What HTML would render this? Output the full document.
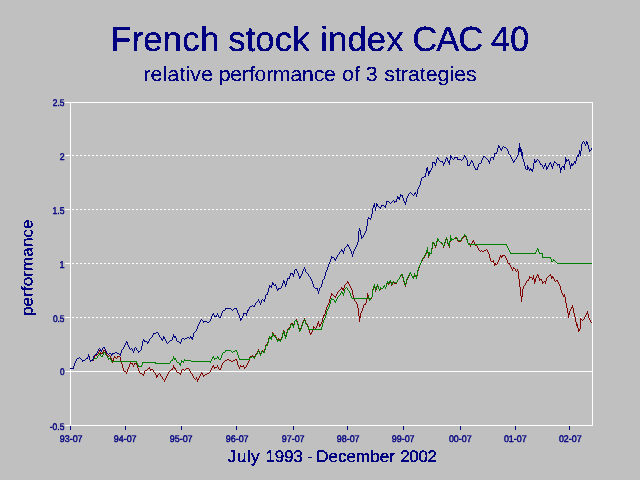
<!DOCTYPE html>
<html lang="en"><head><meta charset="utf-8"><title>French stock index CAC 40</title>
<style>
html,body{margin:0;padding:0;background:#c0c0c0;overflow:hidden}
svg{display:block}
text{font-family:"Liberation Sans",Arial,Helvetica,sans-serif;fill:#000080;text-rendering:geometricPrecision}
.ln{fill:none;stroke-width:1;stroke-linejoin:miter;shape-rendering:crispEdges}
</style></head><body>
<svg width="640" height="480" viewBox="0 0 640 480">
<rect width="640" height="480" fill="#c0c0c0"/>
<defs><filter id="px" x="0" y="0" width="640" height="480" filterUnits="userSpaceOnUse" color-interpolation-filters="sRGB"><feComponentTransfer><feFuncA type="discrete" tableValues="0 1"/></feComponentTransfer></filter></defs>
<g shape-rendering="crispEdges" stroke="#fff" stroke-width="1" fill="none">
<line x1="72" y1="155.5" x2="592" y2="155.5" stroke-dasharray="2 2"/>
<line x1="72" y1="209.5" x2="592" y2="209.5" stroke-dasharray="2 2"/>
<line x1="72" y1="263.5" x2="592" y2="263.5" stroke-dasharray="2 2"/>
<line x1="72" y1="317.5" x2="592" y2="317.5" stroke-dasharray="2 2"/>
<rect x="70.5" y="102.5" width="522" height="323"/>
<line x1="70" y1="371.5" x2="593" y2="371.5"/>
<line x1="65" y1="102.5" x2="70" y2="102.5"/>
<line x1="65" y1="155.5" x2="70" y2="155.5"/>
<line x1="65" y1="209.5" x2="70" y2="209.5"/>
<line x1="65" y1="263.5" x2="70" y2="263.5"/>
<line x1="65" y1="317.5" x2="70" y2="317.5"/>
<line x1="65" y1="371.5" x2="70" y2="371.5"/>
<line x1="65" y1="425.5" x2="70" y2="425.5"/>
</g>
<g shape-rendering="crispEdges" stroke="#000080" stroke-width="1">
<line x1="70.5" y1="426" x2="70.5" y2="430"/>
<line x1="125.5" y1="426" x2="125.5" y2="430"/>
<line x1="181.5" y1="426" x2="181.5" y2="430"/>
<line x1="236.5" y1="426" x2="236.5" y2="430"/>
<line x1="293.5" y1="426" x2="293.5" y2="430"/>
<line x1="347.5" y1="426" x2="347.5" y2="430"/>
<line x1="403.5" y1="426" x2="403.5" y2="430"/>
<line x1="460.5" y1="426" x2="460.5" y2="430"/>
<line x1="515.5" y1="426" x2="515.5" y2="430"/>
<line x1="569.5" y1="426" x2="569.5" y2="430"/>
</g>
<text font-size="9" transform="matrix(0.9320 0 0 1.0667 52.767 105.833)" stroke="#000080" stroke-width="0.4">2.5</text>
<text font-size="9" transform="matrix(0.9556 0 0 1.0868 59.761 159.964)" stroke="#000080" stroke-width="0.4">2</text>
<text font-size="9" transform="matrix(0.9516 0 0 1.0868 52.524 213.828)" stroke="#000080" stroke-width="0.4">1.5</text>
<text font-size="9" transform="matrix(1.0118 0 0 1.1077 59.494 267.962)" stroke="#000080" stroke-width="0.4">1</text>
<text font-size="9" transform="matrix(0.9224 0 0 1.0667 52.885 321.833)" stroke="#000080" stroke-width="0.4">0.5</text>
<text font-size="9" transform="matrix(0.9053 0 0 1.0667 59.887 374.833)" stroke="#000080" stroke-width="0.4">0</text>
<text font-size="9" transform="matrix(0.9455 0 0 1.0667 49.764 429.833)" stroke="#000080" stroke-width="0.4">-0.5</text>
<text font-size="9" transform="matrix(0.9911 0 0 1.0667 59.752 441.833)" stroke="#000080" stroke-width="0.4">93-07</text>
<text font-size="9" transform="matrix(0.9911 0 0 1.0667 113.752 441.833)" stroke="#000080" stroke-width="0.4">94-07</text>
<text font-size="9" transform="matrix(0.9911 0 0 1.0667 169.752 441.833)" stroke="#000080" stroke-width="0.4">95-07</text>
<text font-size="9" transform="matrix(0.9911 0 0 1.0667 225.752 441.833)" stroke="#000080" stroke-width="0.4">96-07</text>
<text font-size="9" transform="matrix(0.9911 0 0 1.0667 281.752 441.833)" stroke="#000080" stroke-width="0.4">97-07</text>
<text font-size="9" transform="matrix(0.9911 0 0 1.0667 336.752 441.833)" stroke="#000080" stroke-width="0.4">98-07</text>
<text font-size="9" transform="matrix(0.9911 0 0 1.0667 391.752 441.833)" stroke="#000080" stroke-width="0.4">99-07</text>
<text font-size="9" transform="matrix(0.9856 0 0 1.0667 448.877 441.833)" stroke="#000080" stroke-width="0.4">00-07</text>
<text font-size="9" transform="matrix(0.9856 0 0 1.0667 503.877 441.833)" stroke="#000080" stroke-width="0.4">01-07</text>
<text font-size="9" transform="matrix(0.9856 0 0 1.0667 558.877 441.833)" stroke="#000080" stroke-width="0.4">02-07</text>
<g filter="url(#px)">
<text font-size="35" x="111.45 133.08 144.88 164.59 184.29 202.00 219.80 230.55 248.25 258.08 277.77 295.47 313.79 323.66 331.49 351.11 370.73 390.34 408.18 416.76 440.88 463.16 487.81 496.08 515.39" y="0" transform="matrix(0.9895 0 0 0.9990 0 50.975)" stroke="#000080" stroke-width="0.3">French stock index CAC 40</text>
<text font-size="21" x="141.42 148.54 160.46 165.21 177.13 183.08 187.84 198.55 209.90 215.86 227.28 238.70 245.55 251.26 262.69 269.53 286.66 298.08 309.52 319.80 331.09 337.54 349.61 356.05 361.03 373.03 379.24 389.75 395.59 402.59 414.29 420.13 431.83 443.52 448.20 459.89" y="0" transform="matrix(1.0133 0 0 0.9770 0 80.900)" stroke="#000080" stroke-width="0.15">relative performance of 3 strategies</text>
<text font-size="17" transform="matrix(0 -1.0128 0.9500 0 32.756 316.086)" stroke="#000080" stroke-width="0.3">performance</text>
<text font-size="17" x="227.29 236.36 246.46 250.48 259.63 264.69 273.97 283.25 292.53 301.92 306.38 312.00 315.53 327.78 337.22 345.71 355.15 369.30 378.74 388.18 394.18 399.12 408.25 417.38 426.51" y="0" transform="matrix(1.0026 0 0 0.9833 0 461.877)" stroke="#000080" stroke-width="0.3">July 1993 - December 2002</text>
</g>
<path shape-rendering="crispEdges" fill="#000080" d="M70 368h1v1h-1zM71 368h1v1h-1zM72 368h1v1h-1zM73 366h1v3h-1zM74 363h1v3h-1zM75 361h1v2h-1zM76 359h1v2h-1zM77 358h1v1h-1zM78 358h1v1h-1zM79 357h1v1h-1zM80 358h1v1h-1zM81 359h1v1h-1zM82 360h1v2h-1zM83 360h1v1h-1zM84 360h1v1h-1zM85 359h1v1h-1zM86 358h1v1h-1zM87 357h1v2h-1zM88 354h1v3h-1zM89 356h1v4h-1zM90 360h1v2h-1zM91 360h1v1h-1zM92 359h1v2h-1zM93 356h1v3h-1zM94 355h1v1h-1zM95 354h1v1h-1zM96 353h1v2h-1zM97 351h1v2h-1zM98 349h1v2h-1zM99 348h1v1h-1zM100 349h1v2h-1zM101 350h1v2h-1zM102 348h1v2h-1zM103 347h1v1h-1zM104 347h1v2h-1zM105 349h1v2h-1zM106 351h1v2h-1zM107 353h1v1h-1zM108 354h1v1h-1zM109 353h1v1h-1zM110 353h1v1h-1zM111 354h1v2h-1zM112 353h1v2h-1zM113 353h1v1h-1zM114 353h1v1h-1zM115 352h1v1h-1zM116 352h1v1h-1zM117 353h1v1h-1zM118 353h1v1h-1zM119 354h1v1h-1zM120 353h1v3h-1zM121 350h1v3h-1zM122 349h1v1h-1zM123 347h1v2h-1zM124 345h1v2h-1zM125 343h1v2h-1zM126 341h1v2h-1zM127 342h1v3h-1zM128 345h1v2h-1zM129 347h1v2h-1zM130 349h1v1h-1zM131 348h1v1h-1zM132 349h1v2h-1zM133 351h1v2h-1zM134 348h1v3h-1zM135 347h1v1h-1zM136 348h1v2h-1zM137 350h1v1h-1zM138 351h1v2h-1zM139 351h1v1h-1zM140 350h1v1h-1zM141 346h1v4h-1zM142 341h1v5h-1zM143 339h1v2h-1zM144 340h1v2h-1zM145 341h1v1h-1zM146 341h1v1h-1zM147 342h1v2h-1zM148 341h1v2h-1zM149 339h1v2h-1zM150 338h1v1h-1zM151 337h1v1h-1zM152 335h1v2h-1zM153 333h1v2h-1zM154 333h1v1h-1zM155 333h1v1h-1zM156 332h1v1h-1zM157 332h1v1h-1zM158 333h1v2h-1zM159 335h1v2h-1zM160 337h1v1h-1zM161 338h1v2h-1zM162 339h1v2h-1zM163 336h1v3h-1zM164 337h1v2h-1zM165 339h1v2h-1zM166 341h1v2h-1zM167 343h1v1h-1zM168 342h1v1h-1zM169 341h1v1h-1zM170 340h1v1h-1zM171 340h1v1h-1zM172 337h1v3h-1zM173 334h1v3h-1zM174 336h1v2h-1zM175 336h1v2h-1zM176 338h1v3h-1zM177 341h1v1h-1zM178 341h1v1h-1zM179 342h1v1h-1zM180 342h1v2h-1zM181 339h1v3h-1zM182 338h1v1h-1zM183 338h1v1h-1zM184 339h1v1h-1zM185 338h1v1h-1zM186 338h1v1h-1zM187 337h1v1h-1zM188 337h1v1h-1zM189 338h1v1h-1zM190 336h1v2h-1zM191 337h1v2h-1zM192 337h1v3h-1zM193 333h1v4h-1zM194 332h1v1h-1zM195 331h1v1h-1zM196 329h1v2h-1zM197 326h1v3h-1zM198 324h1v2h-1zM199 322h1v2h-1zM200 320h1v2h-1zM201 319h1v1h-1zM202 320h1v1h-1zM203 321h1v2h-1zM204 321h1v1h-1zM205 321h1v1h-1zM206 321h1v1h-1zM207 322h1v1h-1zM208 322h1v1h-1zM209 321h1v1h-1zM210 319h1v2h-1zM211 316h1v3h-1zM212 314h1v2h-1zM213 313h1v2h-1zM214 315h1v2h-1zM215 316h1v1h-1zM216 315h1v2h-1zM217 313h1v2h-1zM218 315h1v2h-1zM219 317h1v1h-1zM220 316h1v2h-1zM221 313h1v3h-1zM222 311h1v2h-1zM223 310h1v1h-1zM224 310h1v1h-1zM225 308h1v2h-1zM226 308h1v1h-1zM227 308h1v1h-1zM228 308h1v1h-1zM229 308h1v1h-1zM230 308h1v1h-1zM231 309h1v1h-1zM232 310h1v1h-1zM233 309h1v1h-1zM234 308h1v1h-1zM235 308h1v1h-1zM236 308h1v2h-1zM237 310h1v3h-1zM238 313h1v2h-1zM239 315h1v3h-1zM240 318h1v3h-1zM241 318h1v2h-1zM242 316h1v2h-1zM243 313h1v3h-1zM244 313h1v1h-1zM245 313h1v1h-1zM246 313h1v3h-1zM247 310h1v3h-1zM248 309h1v2h-1zM249 307h1v2h-1zM250 306h1v1h-1zM251 306h1v1h-1zM252 305h1v1h-1zM253 306h1v1h-1zM254 305h1v2h-1zM255 303h1v2h-1zM256 302h1v1h-1zM257 301h1v1h-1zM258 299h1v2h-1zM259 301h1v2h-1zM260 303h1v2h-1zM261 300h1v3h-1zM262 299h1v1h-1zM263 300h1v1h-1zM264 299h1v3h-1zM265 295h1v4h-1zM266 294h1v1h-1zM267 292h1v3h-1zM268 288h1v4h-1zM269 285h1v3h-1zM270 286h1v1h-1zM271 285h1v3h-1zM272 282h1v3h-1zM273 283h1v2h-1zM274 285h1v1h-1zM275 284h1v2h-1zM276 286h1v3h-1zM277 289h1v2h-1zM278 288h1v2h-1zM279 288h1v1h-1zM280 288h1v1h-1zM281 286h1v2h-1zM282 283h1v3h-1zM283 280h1v3h-1zM284 281h1v3h-1zM285 284h1v3h-1zM286 281h1v4h-1zM287 278h1v3h-1zM288 278h1v1h-1zM289 276h1v3h-1zM290 273h1v3h-1zM291 273h1v1h-1zM292 273h1v2h-1zM293 274h1v3h-1zM294 270h1v4h-1zM295 269h1v1h-1zM296 269h1v2h-1zM297 271h1v2h-1zM298 273h1v3h-1zM299 276h1v3h-1zM300 276h1v2h-1zM301 274h1v2h-1zM302 271h1v3h-1zM303 269h1v2h-1zM304 267h1v2h-1zM305 269h1v3h-1zM306 272h1v1h-1zM307 273h1v1h-1zM308 274h1v2h-1zM309 276h1v1h-1zM310 277h1v2h-1zM311 279h1v2h-1zM312 281h1v3h-1zM313 284h1v3h-1zM314 287h1v1h-1zM315 288h1v1h-1zM316 288h1v1h-1zM317 288h1v3h-1zM318 291h1v3h-1zM319 288h1v3h-1zM320 287h1v1h-1zM321 284h1v3h-1zM322 280h1v4h-1zM323 279h1v1h-1zM324 276h1v3h-1zM325 272h1v4h-1zM326 270h1v2h-1zM327 267h1v3h-1zM328 264h1v3h-1zM329 262h1v2h-1zM330 259h1v3h-1zM331 256h1v3h-1zM332 257h1v1h-1zM333 257h1v1h-1zM334 258h1v2h-1zM335 259h1v2h-1zM336 257h1v2h-1zM337 255h1v2h-1zM338 254h1v1h-1zM339 252h1v2h-1zM340 251h1v1h-1zM341 249h1v2h-1zM342 250h1v2h-1zM343 251h1v3h-1zM344 248h1v3h-1zM345 247h1v1h-1zM346 246h1v1h-1zM347 244h1v2h-1zM348 245h1v2h-1zM349 247h1v2h-1zM350 249h1v2h-1zM351 251h1v3h-1zM352 254h1v3h-1zM353 251h1v3h-1zM354 249h1v2h-1zM355 247h1v2h-1zM356 245h1v2h-1zM357 242h1v3h-1zM358 231h1v11h-1zM359 228h1v3h-1zM360 230h1v5h-1zM361 235h1v4h-1zM362 237h1v1h-1zM363 235h1v2h-1zM364 233h1v2h-1zM365 231h1v2h-1zM366 226h1v5h-1zM367 219h1v7h-1zM368 217h1v2h-1zM369 218h1v1h-1zM370 218h1v2h-1zM371 214h1v4h-1zM372 208h1v6h-1zM373 205h1v3h-1zM374 203h1v4h-1zM375 207h1v4h-1zM376 203h1v4h-1zM377 204h1v2h-1zM378 206h1v1h-1zM379 207h1v1h-1zM380 207h1v2h-1zM381 205h1v2h-1zM382 205h1v1h-1zM383 205h1v1h-1zM384 206h1v1h-1zM385 205h1v3h-1zM386 201h1v4h-1zM387 201h1v1h-1zM388 201h1v1h-1zM389 202h1v1h-1zM390 203h1v1h-1zM391 202h1v1h-1zM392 201h1v1h-1zM393 200h1v1h-1zM394 201h1v2h-1zM395 201h1v1h-1zM396 199h1v3h-1zM397 196h1v3h-1zM398 197h1v2h-1zM399 197h1v3h-1zM400 194h1v3h-1zM401 195h1v1h-1zM402 195h1v3h-1zM403 198h1v3h-1zM404 201h1v2h-1zM405 202h1v3h-1zM406 198h1v4h-1zM407 196h1v2h-1zM408 194h1v2h-1zM409 193h1v1h-1zM410 192h1v1h-1zM411 193h1v1h-1zM412 194h1v1h-1zM413 195h1v1h-1zM414 193h1v2h-1zM415 192h1v2h-1zM416 194h1v3h-1zM417 189h1v5h-1zM418 187h1v2h-1zM419 185h1v2h-1zM420 181h1v4h-1zM421 178h1v3h-1zM422 177h1v1h-1zM423 177h1v1h-1zM424 176h1v1h-1zM425 173h1v4h-1zM426 168h1v5h-1zM427 167h1v4h-1zM428 171h1v5h-1zM429 171h1v3h-1zM430 170h1v2h-1zM431 168h1v2h-1zM432 162h1v6h-1zM433 162h1v1h-1zM434 162h1v2h-1zM435 163h1v3h-1zM436 159h1v4h-1zM437 157h1v2h-1zM438 158h1v2h-1zM439 160h1v1h-1zM440 161h1v1h-1zM441 161h1v1h-1zM442 161h1v2h-1zM443 163h1v3h-1zM444 162h1v2h-1zM445 159h1v3h-1zM446 157h1v2h-1zM447 158h1v3h-1zM448 161h1v2h-1zM449 160h1v5h-1zM450 155h1v5h-1zM451 156h1v2h-1zM452 158h1v1h-1zM453 159h1v1h-1zM454 157h1v2h-1zM455 157h1v1h-1zM456 157h1v1h-1zM457 157h1v3h-1zM458 159h1v1h-1zM459 159h1v1h-1zM460 159h1v1h-1zM461 160h1v1h-1zM462 159h1v1h-1zM463 157h1v2h-1zM464 155h1v2h-1zM465 156h1v2h-1zM466 158h1v2h-1zM467 160h1v6h-1zM468 165h1v1h-1zM469 164h1v2h-1zM470 162h1v2h-1zM471 160h1v2h-1zM472 161h1v2h-1zM473 163h1v3h-1zM474 166h1v2h-1zM475 168h1v2h-1zM476 169h1v1h-1zM477 167h1v3h-1zM478 164h1v3h-1zM479 163h1v1h-1zM480 163h1v1h-1zM481 160h1v3h-1zM482 158h1v2h-1zM483 156h1v2h-1zM484 156h1v1h-1zM485 157h1v1h-1zM486 158h1v1h-1zM487 159h1v1h-1zM488 160h1v2h-1zM489 161h1v3h-1zM490 158h1v3h-1zM491 157h1v1h-1zM492 157h1v1h-1zM493 157h1v3h-1zM494 153h1v4h-1zM495 153h1v1h-1zM496 152h1v2h-1zM497 148h1v4h-1zM498 145h1v3h-1zM499 146h1v2h-1zM500 148h1v2h-1zM501 149h1v2h-1zM502 147h1v2h-1zM503 146h1v1h-1zM504 147h1v1h-1zM505 147h1v1h-1zM506 148h1v1h-1zM507 149h1v2h-1zM508 151h1v3h-1zM509 154h1v1h-1zM510 155h1v2h-1zM511 157h1v2h-1zM512 159h1v2h-1zM513 161h1v2h-1zM514 160h1v2h-1zM515 159h1v1h-1zM516 157h1v2h-1zM517 155h1v2h-1zM518 148h1v7h-1zM519 143h1v9h-1zM520 147h1v5h-1zM521 149h1v7h-1zM522 152h1v7h-1zM523 159h1v3h-1zM524 162h1v4h-1zM525 166h1v3h-1zM526 169h1v1h-1zM527 165h1v5h-1zM528 167h1v2h-1zM529 169h1v2h-1zM530 168h1v2h-1zM531 169h1v2h-1zM532 169h1v3h-1zM533 163h1v6h-1zM534 159h1v4h-1zM535 161h1v2h-1zM536 160h1v2h-1zM537 159h1v1h-1zM538 160h1v1h-1zM539 161h1v2h-1zM540 163h1v2h-1zM541 164h1v1h-1zM542 165h1v2h-1zM543 167h1v2h-1zM544 165h1v2h-1zM545 163h1v3h-1zM546 166h1v4h-1zM547 167h1v2h-1zM548 165h1v2h-1zM549 163h1v2h-1zM550 162h1v2h-1zM551 164h1v3h-1zM552 166h1v3h-1zM553 163h1v3h-1zM554 161h1v2h-1zM555 162h1v1h-1zM556 163h1v1h-1zM557 164h1v2h-1zM558 164h1v1h-1zM559 164h1v4h-1zM560 168h1v5h-1zM561 167h1v3h-1zM562 166h1v1h-1zM563 166h1v2h-1zM564 164h1v6h-1zM565 157h1v7h-1zM566 159h1v3h-1zM567 160h1v1h-1zM568 159h1v2h-1zM569 161h1v4h-1zM570 165h1v4h-1zM571 163h1v3h-1zM572 164h1v2h-1zM573 163h1v2h-1zM574 161h1v2h-1zM575 161h1v3h-1zM576 157h1v4h-1zM577 155h1v2h-1zM578 154h1v3h-1zM579 150h1v4h-1zM580 151h1v5h-1zM581 144h1v7h-1zM582 142h1v2h-1zM583 141h1v1h-1zM584 142h1v2h-1zM585 144h1v2h-1zM586 141h1v3h-1zM587 142h1v3h-1zM588 145h1v4h-1zM589 149h1v3h-1zM590 150h1v1h-1zM591 148h1v2h-1z"/>
<path shape-rendering="crispEdges" fill="#800000" d="M93 359h1v2h-1zM94 356h1v3h-1zM95 355h1v1h-1zM96 355h1v1h-1zM97 354h1v1h-1zM98 352h1v2h-1zM99 350h1v2h-1zM100 352h1v2h-1zM101 353h1v1h-1zM102 352h1v2h-1zM103 350h1v2h-1zM104 350h1v1h-1zM105 351h1v2h-1zM106 353h1v2h-1zM107 355h1v1h-1zM108 356h1v1h-1zM109 355h1v1h-1zM110 356h1v2h-1zM111 358h1v2h-1zM112 360h1v3h-1zM113 358h1v3h-1zM114 356h1v2h-1zM115 357h1v1h-1zM116 358h1v1h-1zM117 356h1v2h-1zM118 356h1v1h-1zM119 356h1v1h-1zM120 357h1v4h-1zM121 361h1v3h-1zM122 364h1v4h-1zM123 368h1v3h-1zM124 371h1v1h-1zM125 371h1v1h-1zM126 372h1v2h-1zM127 369h1v3h-1zM128 367h1v2h-1zM129 364h1v3h-1zM130 362h1v2h-1zM131 363h1v1h-1zM132 363h1v2h-1zM133 365h1v2h-1zM134 363h1v2h-1zM135 363h1v1h-1zM136 363h1v2h-1zM137 365h1v3h-1zM138 368h1v3h-1zM139 371h1v2h-1zM140 373h1v1h-1zM141 373h1v1h-1zM142 374h1v1h-1zM143 374h1v2h-1zM144 371h1v3h-1zM145 370h1v1h-1zM146 370h1v1h-1zM147 369h1v1h-1zM148 368h1v1h-1zM149 367h1v2h-1zM150 369h1v2h-1zM151 369h1v1h-1zM152 369h1v1h-1zM153 370h1v2h-1zM154 372h1v1h-1zM155 373h1v2h-1zM156 375h1v3h-1zM157 375h1v2h-1zM158 374h1v1h-1zM159 373h1v1h-1zM160 374h1v2h-1zM161 376h1v1h-1zM162 377h1v2h-1zM163 379h1v1h-1zM164 380h1v2h-1zM165 378h1v2h-1zM166 376h1v2h-1zM167 374h1v2h-1zM168 372h1v2h-1zM169 371h1v1h-1zM170 370h1v1h-1zM171 369h1v1h-1zM172 368h1v2h-1zM173 365h1v3h-1zM174 367h1v2h-1zM175 368h1v2h-1zM176 370h1v2h-1zM177 372h1v1h-1zM178 372h1v1h-1zM179 373h1v1h-1zM180 373h1v2h-1zM181 370h1v3h-1zM182 369h1v1h-1zM183 369h1v1h-1zM184 370h1v1h-1zM185 369h1v1h-1zM186 368h1v1h-1zM187 368h1v1h-1zM188 368h1v1h-1zM189 369h1v2h-1zM190 371h1v2h-1zM191 373h1v1h-1zM192 374h1v2h-1zM193 376h1v2h-1zM194 378h1v1h-1zM195 379h1v1h-1zM196 377h1v2h-1zM197 379h1v3h-1zM198 378h1v2h-1zM199 376h1v2h-1zM200 374h1v2h-1zM201 372h1v2h-1zM202 373h1v2h-1zM203 375h1v2h-1zM204 375h1v1h-1zM205 374h1v1h-1zM206 374h1v1h-1zM207 373h1v1h-1zM208 373h1v1h-1zM209 372h1v1h-1zM210 370h1v2h-1zM211 368h1v2h-1zM212 366h1v2h-1zM213 365h1v2h-1zM214 367h1v2h-1zM215 367h1v1h-1zM216 367h1v1h-1zM217 365h1v2h-1zM218 367h1v2h-1zM219 369h1v1h-1zM220 368h1v2h-1zM221 365h1v3h-1zM222 363h1v2h-1zM223 362h1v1h-1zM224 361h1v1h-1zM225 360h1v1h-1zM226 360h1v1h-1zM227 359h1v1h-1zM228 359h1v1h-1zM229 360h1v1h-1zM230 360h1v1h-1zM231 361h1v1h-1zM232 361h1v1h-1zM233 360h1v1h-1zM234 360h1v1h-1zM235 359h1v1h-1zM236 359h1v2h-1zM237 361h1v4h-1zM238 365h1v2h-1zM239 367h1v2h-1zM240 365h1v2h-1zM241 366h1v1h-1zM242 366h1v1h-1zM243 365h1v2h-1zM244 367h1v2h-1zM245 367h1v1h-1zM246 365h1v2h-1zM247 363h1v2h-1zM248 361h1v2h-1zM249 357h1v4h-1zM250 356h1v1h-1zM251 356h1v1h-1zM252 355h1v1h-1zM253 356h1v1h-1zM254 356h1v2h-1zM255 354h1v2h-1zM256 353h1v1h-1zM257 351h1v2h-1zM258 349h1v2h-1zM259 351h1v2h-1zM260 353h1v2h-1zM261 351h1v2h-1zM262 350h1v1h-1zM263 351h1v1h-1zM264 349h1v3h-1zM265 345h1v4h-1zM266 344h1v1h-1zM267 342h1v3h-1zM268 338h1v4h-1zM269 336h1v2h-1zM270 337h1v1h-1zM271 336h1v3h-1zM272 332h1v4h-1zM273 333h1v2h-1zM274 335h1v2h-1zM275 335h1v2h-1zM276 337h1v2h-1zM277 339h1v2h-1zM278 338h1v2h-1zM279 339h1v1h-1zM280 339h1v2h-1zM281 337h1v2h-1zM282 333h1v4h-1zM283 330h1v3h-1zM284 331h1v4h-1zM285 335h1v3h-1zM286 332h1v4h-1zM287 329h1v3h-1zM288 328h1v1h-1zM289 327h1v2h-1zM290 324h1v3h-1zM291 323h1v1h-1zM292 323h1v2h-1zM293 324h1v3h-1zM294 321h1v3h-1zM295 320h1v1h-1zM296 319h1v2h-1zM297 321h1v3h-1zM298 324h1v4h-1zM299 328h1v4h-1zM300 328h1v2h-1zM301 325h1v3h-1zM302 322h1v3h-1zM303 320h1v2h-1zM304 318h1v2h-1zM305 320h1v3h-1zM306 323h1v1h-1zM307 324h1v2h-1zM308 326h1v4h-1zM309 330h1v3h-1zM310 333h1v2h-1zM311 332h1v2h-1zM312 329h1v3h-1zM313 326h1v3h-1zM314 327h1v1h-1zM315 328h1v1h-1zM316 326h1v2h-1zM317 323h1v3h-1zM318 321h1v3h-1zM319 324h1v3h-1zM320 324h1v2h-1zM321 322h1v2h-1zM322 318h1v4h-1zM323 315h1v3h-1zM324 314h1v2h-1zM325 310h1v4h-1zM326 307h1v3h-1zM327 305h1v2h-1zM328 303h1v2h-1zM329 299h1v4h-1zM330 296h1v3h-1zM331 293h1v3h-1zM332 294h1v1h-1zM333 295h1v1h-1zM334 296h1v1h-1zM335 296h1v2h-1zM336 294h1v2h-1zM337 292h1v2h-1zM338 291h1v1h-1zM339 290h1v1h-1zM340 289h1v1h-1zM341 287h1v2h-1zM342 288h1v2h-1zM343 288h1v3h-1zM344 285h1v3h-1zM345 284h1v1h-1zM346 283h1v1h-1zM347 281h1v2h-1zM348 282h1v2h-1zM349 284h1v2h-1zM350 286h1v2h-1zM351 288h1v2h-1zM352 290h1v5h-1zM353 295h1v4h-1zM354 299h1v2h-1zM355 301h1v1h-1zM356 302h1v2h-1zM357 304h1v4h-1zM358 308h1v8h-1zM359 316h1v6h-1zM360 313h1v5h-1zM361 311h1v2h-1zM362 308h1v3h-1zM363 305h1v3h-1zM364 304h1v1h-1zM365 303h1v2h-1zM366 298h1v5h-1zM367 293h1v5h-1zM368 295h1v4h-1zM369 299h1v2h-1zM370 299h1v1h-1zM371 297h1v2h-1zM372 290h1v7h-1zM373 287h1v3h-1zM374 285h1v3h-1zM375 288h1v4h-1zM376 287h1v3h-1zM377 285h1v2h-1zM378 287h1v2h-1zM379 289h1v2h-1zM380 288h1v2h-1zM381 288h1v1h-1zM382 288h1v1h-1zM383 287h1v1h-1zM384 286h1v1h-1zM385 287h1v2h-1zM386 284h1v3h-1zM387 282h1v2h-1zM388 283h1v2h-1zM389 282h1v2h-1zM390 281h1v2h-1zM391 283h1v3h-1zM392 283h1v2h-1zM393 282h1v1h-1zM394 283h1v1h-1zM395 283h1v1h-1zM396 282h1v2h-1zM397 280h1v2h-1zM398 279h1v1h-1zM399 277h1v2h-1zM400 275h1v2h-1zM401 275h1v1h-1zM402 275h1v3h-1zM403 278h1v4h-1zM404 282h1v3h-1zM405 284h1v3h-1zM406 280h1v4h-1zM407 278h1v2h-1zM408 276h1v2h-1zM409 274h1v2h-1zM410 273h1v1h-1zM411 274h1v2h-1zM412 276h1v2h-1zM413 277h1v2h-1zM414 274h1v3h-1zM415 275h1v2h-1zM416 276h1v3h-1zM417 271h1v5h-1zM418 268h1v3h-1zM419 265h1v3h-1zM420 263h1v2h-1zM421 261h1v2h-1zM422 259h1v2h-1zM423 258h1v1h-1zM424 256h1v2h-1zM425 254h1v2h-1zM426 251h1v3h-1zM427 248h1v5h-1zM428 253h1v5h-1zM429 253h1v3h-1zM430 253h1v1h-1zM431 249h1v5h-1zM432 243h1v6h-1zM433 243h1v1h-1zM434 244h1v2h-1zM435 246h1v2h-1zM436 242h1v4h-1zM437 239h1v3h-1zM438 240h1v1h-1zM439 241h1v1h-1zM440 242h1v1h-1zM441 243h1v1h-1zM442 243h1v2h-1zM443 245h1v3h-1zM444 243h1v3h-1zM445 240h1v3h-1zM446 238h1v2h-1zM447 240h1v4h-1zM448 244h1v2h-1zM449 242h1v6h-1zM450 236h1v6h-1zM451 238h1v3h-1zM452 239h1v1h-1zM453 239h1v1h-1zM454 238h1v1h-1zM455 238h1v1h-1zM456 238h1v1h-1zM457 239h1v2h-1zM458 241h1v1h-1zM459 241h1v1h-1zM460 241h1v1h-1zM461 239h1v2h-1zM462 238h1v1h-1zM463 237h1v1h-1zM464 235h1v2h-1zM465 236h1v1h-1zM466 237h1v3h-1zM467 240h1v3h-1zM468 243h1v2h-1zM469 243h1v2h-1zM470 245h1v2h-1zM471 243h1v2h-1zM472 241h1v2h-1zM473 240h1v2h-1zM474 242h1v3h-1zM475 245h1v1h-1zM476 245h1v1h-1zM477 246h1v2h-1zM478 248h1v2h-1zM479 250h1v1h-1zM480 251h1v1h-1zM481 250h1v1h-1zM482 251h1v1h-1zM483 251h1v1h-1zM484 250h1v1h-1zM485 250h1v1h-1zM486 249h1v1h-1zM487 250h1v2h-1zM488 252h1v2h-1zM489 254h1v4h-1zM490 258h1v3h-1zM491 261h1v1h-1zM492 261h1v1h-1zM493 260h1v3h-1zM494 263h1v3h-1zM495 263h1v2h-1zM496 264h1v1h-1zM497 262h1v2h-1zM498 260h1v2h-1zM499 257h1v3h-1zM500 255h1v2h-1zM501 256h1v2h-1zM502 255h1v2h-1zM503 255h1v1h-1zM504 255h1v1h-1zM505 256h1v2h-1zM506 258h1v2h-1zM507 260h1v3h-1zM508 263h1v1h-1zM509 263h1v2h-1zM510 265h1v2h-1zM511 267h1v2h-1zM512 269h1v2h-1zM513 267h1v2h-1zM514 268h1v1h-1zM515 269h1v2h-1zM516 271h1v1h-1zM517 269h1v2h-1zM518 271h1v8h-1zM519 279h1v8h-1zM520 287h1v9h-1zM521 296h1v6h-1zM522 289h1v8h-1zM523 286h1v3h-1zM524 285h1v1h-1zM525 283h1v2h-1zM526 281h1v2h-1zM527 280h1v1h-1zM528 279h1v2h-1zM529 276h1v3h-1zM530 277h1v1h-1zM531 277h1v1h-1zM532 278h1v2h-1zM533 275h1v4h-1zM534 279h1v5h-1zM535 278h1v4h-1zM536 276h1v2h-1zM537 274h1v2h-1zM538 275h1v3h-1zM539 278h1v3h-1zM540 279h1v1h-1zM541 279h1v2h-1zM542 281h1v3h-1zM543 282h1v1h-1zM544 281h1v1h-1zM545 281h1v3h-1zM546 278h1v3h-1zM547 277h1v1h-1zM548 276h1v1h-1zM549 275h1v1h-1zM550 274h1v2h-1zM551 276h1v3h-1zM552 276h1v2h-1zM553 277h1v2h-1zM554 279h1v2h-1zM555 281h1v1h-1zM556 280h1v1h-1zM557 280h1v2h-1zM558 282h1v2h-1zM559 284h1v2h-1zM560 286h1v4h-1zM561 290h1v3h-1zM562 293h1v2h-1zM563 295h1v2h-1zM564 294h1v3h-1zM565 297h1v6h-1zM566 303h1v5h-1zM567 308h1v5h-1zM568 313h1v5h-1zM569 311h1v4h-1zM570 309h1v2h-1zM571 307h1v2h-1zM572 305h1v3h-1zM573 308h1v5h-1zM574 313h1v4h-1zM575 317h1v5h-1zM576 322h1v4h-1zM577 324h1v4h-1zM578 328h1v4h-1zM579 329h1v2h-1zM580 318h1v11h-1zM581 319h1v1h-1zM582 320h1v1h-1zM583 319h1v1h-1zM584 317h1v2h-1zM585 315h1v2h-1zM586 313h1v2h-1zM587 311h1v3h-1zM588 314h1v4h-1zM589 318h1v2h-1zM590 320h1v2h-1zM591 322h1v1h-1z"/>
<path shape-rendering="crispEdges" fill="#008000" d="M93 359h1v1h-1zM94 358h1v1h-1zM95 358h1v1h-1zM96 358h1v1h-1zM97 356h1v2h-1zM98 355h1v1h-1zM99 353h1v2h-1zM100 354h1v2h-1zM101 356h1v1h-1zM102 355h1v2h-1zM103 352h1v3h-1zM104 352h1v1h-1zM105 353h1v2h-1zM106 355h1v1h-1zM107 356h1v2h-1zM108 358h1v2h-1zM109 358h1v1h-1zM110 358h1v2h-1zM111 360h1v2h-1zM112 361h1v1h-1zM113 361h1v1h-1zM114 361h1v1h-1zM115 361h1v1h-1zM116 361h1v1h-1zM117 361h1v1h-1zM118 361h1v1h-1zM119 361h1v1h-1zM120 361h1v1h-1zM121 361h1v1h-1zM122 361h1v1h-1zM123 361h1v1h-1zM124 361h1v1h-1zM125 361h1v1h-1zM126 361h1v1h-1zM127 361h1v1h-1zM128 361h1v1h-1zM129 361h1v1h-1zM130 361h1v1h-1zM131 361h1v1h-1zM132 361h1v1h-1zM133 361h1v1h-1zM134 361h1v1h-1zM135 361h1v1h-1zM136 361h1v2h-1zM137 363h1v2h-1zM138 365h1v2h-1zM139 366h1v1h-1zM140 366h1v1h-1zM141 365h1v2h-1zM142 362h1v3h-1zM143 362h1v1h-1zM144 362h1v1h-1zM145 362h1v1h-1zM146 362h1v1h-1zM147 362h1v1h-1zM148 362h1v1h-1zM149 362h1v1h-1zM150 362h1v1h-1zM151 362h1v1h-1zM152 362h1v1h-1zM153 362h1v1h-1zM154 362h1v1h-1zM155 362h1v2h-1zM156 363h1v1h-1zM157 363h1v1h-1zM158 363h1v1h-1zM159 363h1v1h-1zM160 363h1v1h-1zM161 363h1v1h-1zM162 363h1v1h-1zM163 363h1v1h-1zM164 363h1v1h-1zM165 363h1v1h-1zM166 363h1v1h-1zM167 363h1v1h-1zM168 363h1v1h-1zM169 363h1v1h-1zM170 361h1v2h-1zM171 360h1v1h-1zM172 359h1v2h-1zM173 356h1v3h-1zM174 358h1v2h-1zM175 358h1v2h-1zM176 360h1v2h-1zM177 362h1v1h-1zM178 362h1v1h-1zM179 363h1v2h-1zM180 363h1v3h-1zM181 360h1v3h-1zM182 361h1v1h-1zM183 361h1v2h-1zM184 359h1v2h-1zM185 360h1v1h-1zM186 360h1v1h-1zM187 360h1v1h-1zM188 360h1v1h-1zM189 360h1v1h-1zM190 360h1v1h-1zM191 361h1v1h-1zM192 361h1v1h-1zM193 361h1v1h-1zM194 361h1v1h-1zM195 361h1v1h-1zM196 361h1v1h-1zM197 361h1v1h-1zM198 361h1v1h-1zM199 361h1v1h-1zM200 361h1v1h-1zM201 361h1v1h-1zM202 361h1v1h-1zM203 361h1v1h-1zM204 361h1v1h-1zM205 361h1v1h-1zM206 361h1v1h-1zM207 361h1v1h-1zM208 361h1v1h-1zM209 361h1v1h-1zM210 361h1v2h-1zM211 359h1v2h-1zM212 357h1v2h-1zM213 356h1v2h-1zM214 358h1v2h-1zM215 358h1v1h-1zM216 358h1v1h-1zM217 356h1v2h-1zM218 357h1v2h-1zM219 359h1v1h-1zM220 358h1v2h-1zM221 355h1v3h-1zM222 353h1v2h-1zM223 352h1v1h-1zM224 352h1v1h-1zM225 350h1v2h-1zM226 350h1v1h-1zM227 350h1v1h-1zM228 350h1v1h-1zM229 350h1v1h-1zM230 350h1v1h-1zM231 351h1v1h-1zM232 352h1v1h-1zM233 351h1v1h-1zM234 351h1v1h-1zM235 350h1v1h-1zM236 350h1v2h-1zM237 352h1v3h-1zM238 355h1v3h-1zM239 358h1v2h-1zM240 359h1v1h-1zM241 359h1v1h-1zM242 359h1v1h-1zM243 359h1v1h-1zM244 359h1v1h-1zM245 359h1v1h-1zM246 359h1v1h-1zM247 359h1v1h-1zM248 359h1v1h-1zM249 358h1v2h-1zM250 357h1v1h-1zM251 357h1v1h-1zM252 356h1v1h-1zM253 357h1v1h-1zM254 357h1v2h-1zM255 355h1v2h-1zM256 354h1v1h-1zM257 352h1v2h-1zM258 350h1v2h-1zM259 352h1v2h-1zM260 354h1v2h-1zM261 351h1v3h-1zM262 351h1v1h-1zM263 352h1v1h-1zM264 350h1v3h-1zM265 346h1v4h-1zM266 345h1v1h-1zM267 343h1v3h-1zM268 339h1v4h-1zM269 336h1v3h-1zM270 337h1v2h-1zM271 337h1v3h-1zM272 333h1v4h-1zM273 334h1v2h-1zM274 336h1v1h-1zM275 336h1v2h-1zM276 338h1v2h-1zM277 340h1v2h-1zM278 339h1v2h-1zM279 340h1v1h-1zM280 340h1v2h-1zM281 338h1v2h-1zM282 334h1v4h-1zM283 331h1v3h-1zM284 332h1v4h-1zM285 336h1v3h-1zM286 333h1v4h-1zM287 330h1v3h-1zM288 329h1v1h-1zM289 328h1v2h-1zM290 325h1v3h-1zM291 324h1v1h-1zM292 324h1v2h-1zM293 325h1v3h-1zM294 321h1v4h-1zM295 320h1v1h-1zM296 320h1v2h-1zM297 322h1v3h-1zM298 325h1v4h-1zM299 329h1v3h-1zM300 329h1v2h-1zM301 326h1v3h-1zM302 323h1v3h-1zM303 321h1v2h-1zM304 319h1v2h-1zM305 321h1v3h-1zM306 324h1v1h-1zM307 325h1v2h-1zM308 327h1v3h-1zM309 329h1v1h-1zM310 329h1v1h-1zM311 329h1v1h-1zM312 329h1v1h-1zM313 329h1v1h-1zM314 329h1v1h-1zM315 329h1v1h-1zM316 329h1v1h-1zM317 329h1v1h-1zM318 329h1v1h-1zM319 329h1v1h-1zM320 329h1v1h-1zM321 327h1v3h-1zM322 323h1v4h-1zM323 320h1v3h-1zM324 318h1v2h-1zM325 315h1v3h-1zM326 311h1v4h-1zM327 309h1v2h-1zM328 307h1v2h-1zM329 304h1v3h-1zM330 300h1v4h-1zM331 298h1v2h-1zM332 299h1v1h-1zM333 299h1v1h-1zM334 300h1v2h-1zM335 301h1v2h-1zM336 299h1v2h-1zM337 297h1v2h-1zM338 296h1v1h-1zM339 295h1v1h-1zM340 293h1v2h-1zM341 291h1v2h-1zM342 292h1v2h-1zM343 293h1v3h-1zM344 289h1v4h-1zM345 288h1v1h-1zM346 287h1v1h-1zM347 288h1v2h-1zM348 290h1v1h-1zM349 291h1v2h-1zM350 293h1v3h-1zM351 296h1v2h-1zM352 298h1v1h-1zM353 298h1v1h-1zM354 298h1v1h-1zM355 298h1v1h-1zM356 298h1v1h-1zM357 298h1v1h-1zM358 298h1v1h-1zM359 298h1v1h-1zM360 298h1v1h-1zM361 298h1v1h-1zM362 298h1v1h-1zM363 298h1v1h-1zM364 298h1v1h-1zM365 298h1v1h-1zM366 298h1v1h-1zM367 298h1v1h-1zM368 296h1v2h-1zM369 298h1v3h-1zM370 298h1v2h-1zM371 297h1v1h-1zM372 289h1v8h-1zM373 286h1v3h-1zM374 284h1v3h-1zM375 287h1v4h-1zM376 286h1v3h-1zM377 284h1v2h-1zM378 286h1v3h-1zM379 289h1v2h-1zM380 287h1v2h-1zM381 288h1v1h-1zM382 288h1v1h-1zM383 286h1v2h-1zM384 285h1v2h-1zM385 287h1v2h-1zM386 283h1v4h-1zM387 281h1v2h-1zM388 282h1v2h-1zM389 281h1v2h-1zM390 280h1v2h-1zM391 282h1v3h-1zM392 282h1v2h-1zM393 281h1v1h-1zM394 282h1v1h-1zM395 282h1v1h-1zM396 282h1v1h-1zM397 280h1v2h-1zM398 279h1v1h-1zM399 277h1v2h-1zM400 275h1v2h-1zM401 274h1v1h-1zM402 274h1v3h-1zM403 277h1v4h-1zM404 281h1v3h-1zM405 283h1v3h-1zM406 279h1v4h-1zM407 277h1v2h-1zM408 275h1v2h-1zM409 273h1v2h-1zM410 272h1v2h-1zM411 274h1v2h-1zM412 276h1v2h-1zM413 276h1v3h-1zM414 273h1v3h-1zM415 275h1v2h-1zM416 275h1v4h-1zM417 270h1v5h-1zM418 267h1v3h-1zM419 265h1v2h-1zM420 263h1v2h-1zM421 260h1v3h-1zM422 258h1v2h-1zM423 257h1v1h-1zM424 255h1v2h-1zM425 253h1v2h-1zM426 250h1v3h-1zM427 247h1v5h-1zM428 252h1v5h-1zM429 252h1v3h-1zM430 253h1v1h-1zM431 248h1v6h-1zM432 242h1v6h-1zM433 242h1v1h-1zM434 243h1v2h-1zM435 245h1v2h-1zM436 241h1v4h-1zM437 238h1v3h-1zM438 239h1v2h-1zM439 241h1v1h-1zM440 242h1v1h-1zM441 242h1v1h-1zM442 243h1v2h-1zM443 245h1v2h-1zM444 242h1v3h-1zM445 239h1v3h-1zM446 237h1v2h-1zM447 239h1v4h-1zM448 243h1v2h-1zM449 241h1v6h-1zM450 235h1v6h-1zM451 238h1v3h-1zM452 239h1v1h-1zM453 239h1v1h-1zM454 238h1v1h-1zM455 237h1v1h-1zM456 237h1v1h-1zM457 238h1v2h-1zM458 240h1v1h-1zM459 240h1v1h-1zM460 240h1v1h-1zM461 238h1v2h-1zM462 237h1v1h-1zM463 236h1v1h-1zM464 234h1v2h-1zM465 235h1v1h-1zM466 236h1v3h-1zM467 239h1v4h-1zM468 243h1v2h-1zM469 244h1v1h-1zM470 244h1v1h-1zM471 244h1v1h-1zM472 244h1v1h-1zM473 244h1v1h-1zM474 244h1v1h-1zM475 244h1v1h-1zM476 244h1v1h-1zM477 244h1v1h-1zM478 244h1v1h-1zM479 244h1v1h-1zM480 244h1v1h-1zM481 244h1v1h-1zM482 244h1v1h-1zM483 244h1v1h-1zM484 244h1v1h-1zM485 244h1v1h-1zM486 244h1v1h-1zM487 244h1v1h-1zM488 244h1v1h-1zM489 244h1v1h-1zM490 244h1v1h-1zM491 244h1v1h-1zM492 244h1v1h-1zM493 244h1v1h-1zM494 244h1v1h-1zM495 244h1v1h-1zM496 244h1v1h-1zM497 244h1v1h-1zM498 244h1v1h-1zM499 244h1v1h-1zM500 244h1v1h-1zM501 244h1v1h-1zM502 244h1v1h-1zM503 244h1v1h-1zM504 244h1v1h-1zM505 244h1v1h-1zM506 244h1v2h-1zM507 246h1v2h-1zM508 248h1v2h-1zM509 250h1v2h-1zM510 252h1v2h-1zM511 253h1v1h-1zM512 253h1v1h-1zM513 253h1v1h-1zM514 253h1v1h-1zM515 253h1v1h-1zM516 253h1v1h-1zM517 253h1v1h-1zM518 253h1v1h-1zM519 253h1v1h-1zM520 253h1v1h-1zM521 253h1v1h-1zM522 253h1v1h-1zM523 253h1v1h-1zM524 253h1v1h-1zM525 253h1v1h-1zM526 253h1v1h-1zM527 253h1v1h-1zM528 253h1v1h-1zM529 253h1v1h-1zM530 253h1v1h-1zM531 253h1v1h-1zM532 253h1v1h-1zM533 253h1v1h-1zM534 253h1v1h-1zM535 252h1v2h-1zM536 250h1v2h-1zM537 248h1v2h-1zM538 249h1v3h-1zM539 252h1v2h-1zM540 253h1v1h-1zM541 253h1v1h-1zM542 253h1v5h-1zM543 257h1v1h-1zM544 257h1v1h-1zM545 257h1v1h-1zM546 257h1v1h-1zM547 257h1v1h-1zM548 257h1v1h-1zM549 257h1v1h-1zM550 257h1v2h-1zM551 259h1v3h-1zM552 261h1v1h-1zM553 259h1v2h-1zM554 260h1v1h-1zM555 261h1v1h-1zM556 262h1v1h-1zM557 263h1v1h-1zM558 263h1v1h-1zM559 263h1v1h-1zM560 263h1v1h-1zM561 263h1v1h-1zM562 263h1v1h-1zM563 263h1v1h-1zM564 263h1v1h-1zM565 263h1v1h-1zM566 263h1v1h-1zM567 263h1v1h-1zM568 263h1v1h-1zM569 263h1v1h-1zM570 263h1v1h-1zM571 263h1v1h-1zM572 263h1v1h-1zM573 263h1v1h-1zM574 263h1v1h-1zM575 263h1v1h-1zM576 263h1v1h-1zM577 263h1v1h-1zM578 263h1v1h-1zM579 263h1v1h-1zM580 263h1v1h-1zM581 263h1v1h-1zM582 263h1v1h-1zM583 263h1v1h-1zM584 263h1v1h-1zM585 263h1v1h-1zM586 263h1v1h-1zM587 263h1v1h-1zM588 263h1v1h-1zM589 263h1v1h-1zM590 263h1v1h-1zM591 263h1v1h-1z"/>
</svg></body></html>
